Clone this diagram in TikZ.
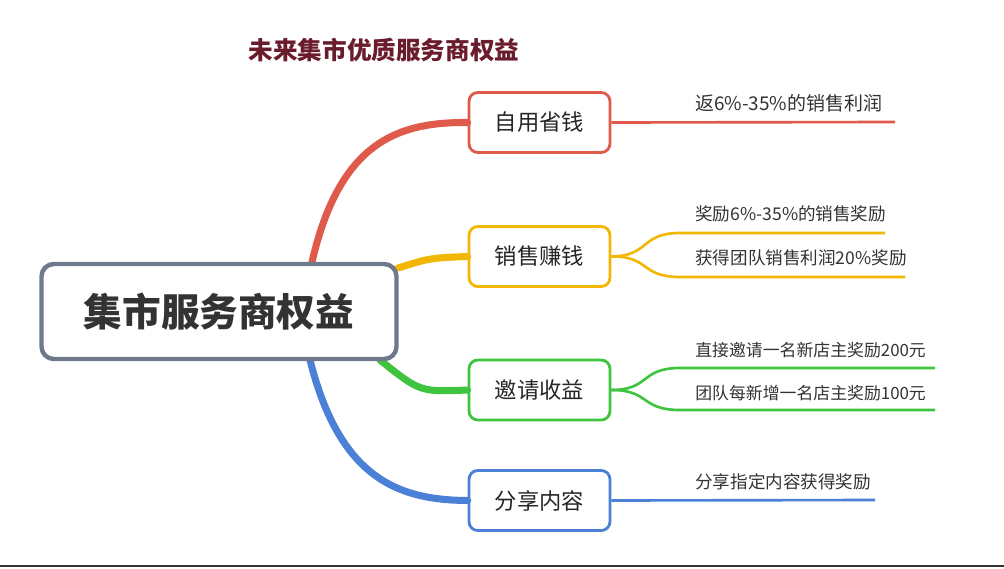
\documentclass[tikz,border=0pt]{standalone}
\usepackage{fontspec}
\setmainfont{Noto Sans CJK SC}
\definecolor{cred}{HTML}{E05A4C}
\definecolor{cyel}{HTML}{F2B705}
\definecolor{cgrn}{HTML}{3FC43F}
\definecolor{cblu}{HTML}{4A80D6}
\definecolor{cgray}{HTML}{6E7A8C}
\definecolor{ctitle}{HTML}{6A1C2C}
\tikzset{
 branch/.style={draw=#1,line width=1.6pt,rounded corners=5pt,minimum width=2.82cm,minimum height=1.2cm,font=\fontsize{12.7}{14}\selectfont,text=black!85,fill=white},
 leaf/.style={anchor=west,font=\fontsize{#1}{12}\selectfont,text=black!80,inner sep=0},
 leaf/.default=10,
 thick branch/.style={draw=#1,line width=4pt,line cap=round},
 thin branch/.style={draw=#1,line width=1.5pt},
}
\begin{document}
\begin{tikzpicture}[x=0.02cm,y=-0.02cm]
\useasboundingbox (0,0) rectangle (1004,568);
\fill[white] (0,0) rectangle (1004,568);
\draw[black!80,line width=1pt] (0,566) -- (1004,566);
\node[font=\bfseries\fontsize{14}{16}\selectfont,text=ctitle] (title) at (384,50) {未来集市优质服务商权益};
% branch boxes
\node[branch=cred] (b1) at (539.5,122.5) {自用省钱};
\node[branch=cyel] (b2) at (539.5,256.5) {销售赚钱};
\node[branch=cgrn] (b3) at (539.5,390) {邀请收益};
\node[branch=cblu] (b4) at (539.5,500.5) {分享内容};
% curves from center
\coordinate (c1) at (312,262);
\coordinate (c2) at (398,268);
\coordinate (c3) at (380,360);
\coordinate (c4) at (310,360);
\draw[thick branch=cred] (c1) .. controls (340,140) and (400,122) .. (b1.west);
\draw[thick branch=cyel] (c2) .. controls (430,258) .. (b2.west);
\draw[thick branch=cgrn] (c3) .. controls (420,392) .. (b3.west);
\draw[thick branch=cblu] (c4) .. controls (340,480) and (400,500) .. (b4.west);
% center
\node[draw=cgray,line width=2.5pt,rounded corners=7pt,fill=white,minimum width=7.1cm,minimum height=1.9cm,font=\bfseries\fontsize{22}{26}\selectfont,text=black!80] (center) at (219,311.5) {集市服务商权益};
% leaves
\coordinate (r1) at (895,122);
\draw[thin branch=cred] (b1.east) -- (r1);
\node[leaf=10.8] (t1) at (695,103) {返6\%-35\%的销售利润};
\coordinate (y1s) at (680,233); \coordinate (y1e) at (885,233);
\coordinate (y2s) at (680,277); \coordinate (y2e) at (905,277);
\draw[thin branch=cyel] (b2.east) .. controls (650,256) and (640,233) .. (y1s) -- (y1e);
\draw[thin branch=cyel] (b2.east) .. controls (650,256) and (640,277) .. (y2s) -- (y2e);
\node[leaf] (t2) at (695,214) {奖励6\%-35\%的销售奖励};
\node[leaf] (t3) at (695,258) {获得团队销售利润20\%奖励};
\coordinate (g1s) at (680,368); \coordinate (g1e) at (935,368);
\coordinate (g2s) at (680,410); \coordinate (g2e) at (935,410);
\draw[thin branch=cgrn] (b3.east) .. controls (650,390) and (640,368) .. (g1s) -- (g1e);
\draw[thin branch=cgrn] (b3.east) .. controls (650,390) and (640,410) .. (g2s) -- (g2e);
\node[leaf=9.6] (t4) at (695,350) {直接邀请一名新店主奖励200元};
\node[leaf=9.6] (t5) at (695,393) {团队每新增一名店主奖励100元};
\coordinate (bl) at (875,500);
\draw[thin branch=cblu] (b4.east) -- (bl);
\node[leaf] (t6) at (695,482) {分享指定内容获得奖励};
\end{tikzpicture}
\end{document}
